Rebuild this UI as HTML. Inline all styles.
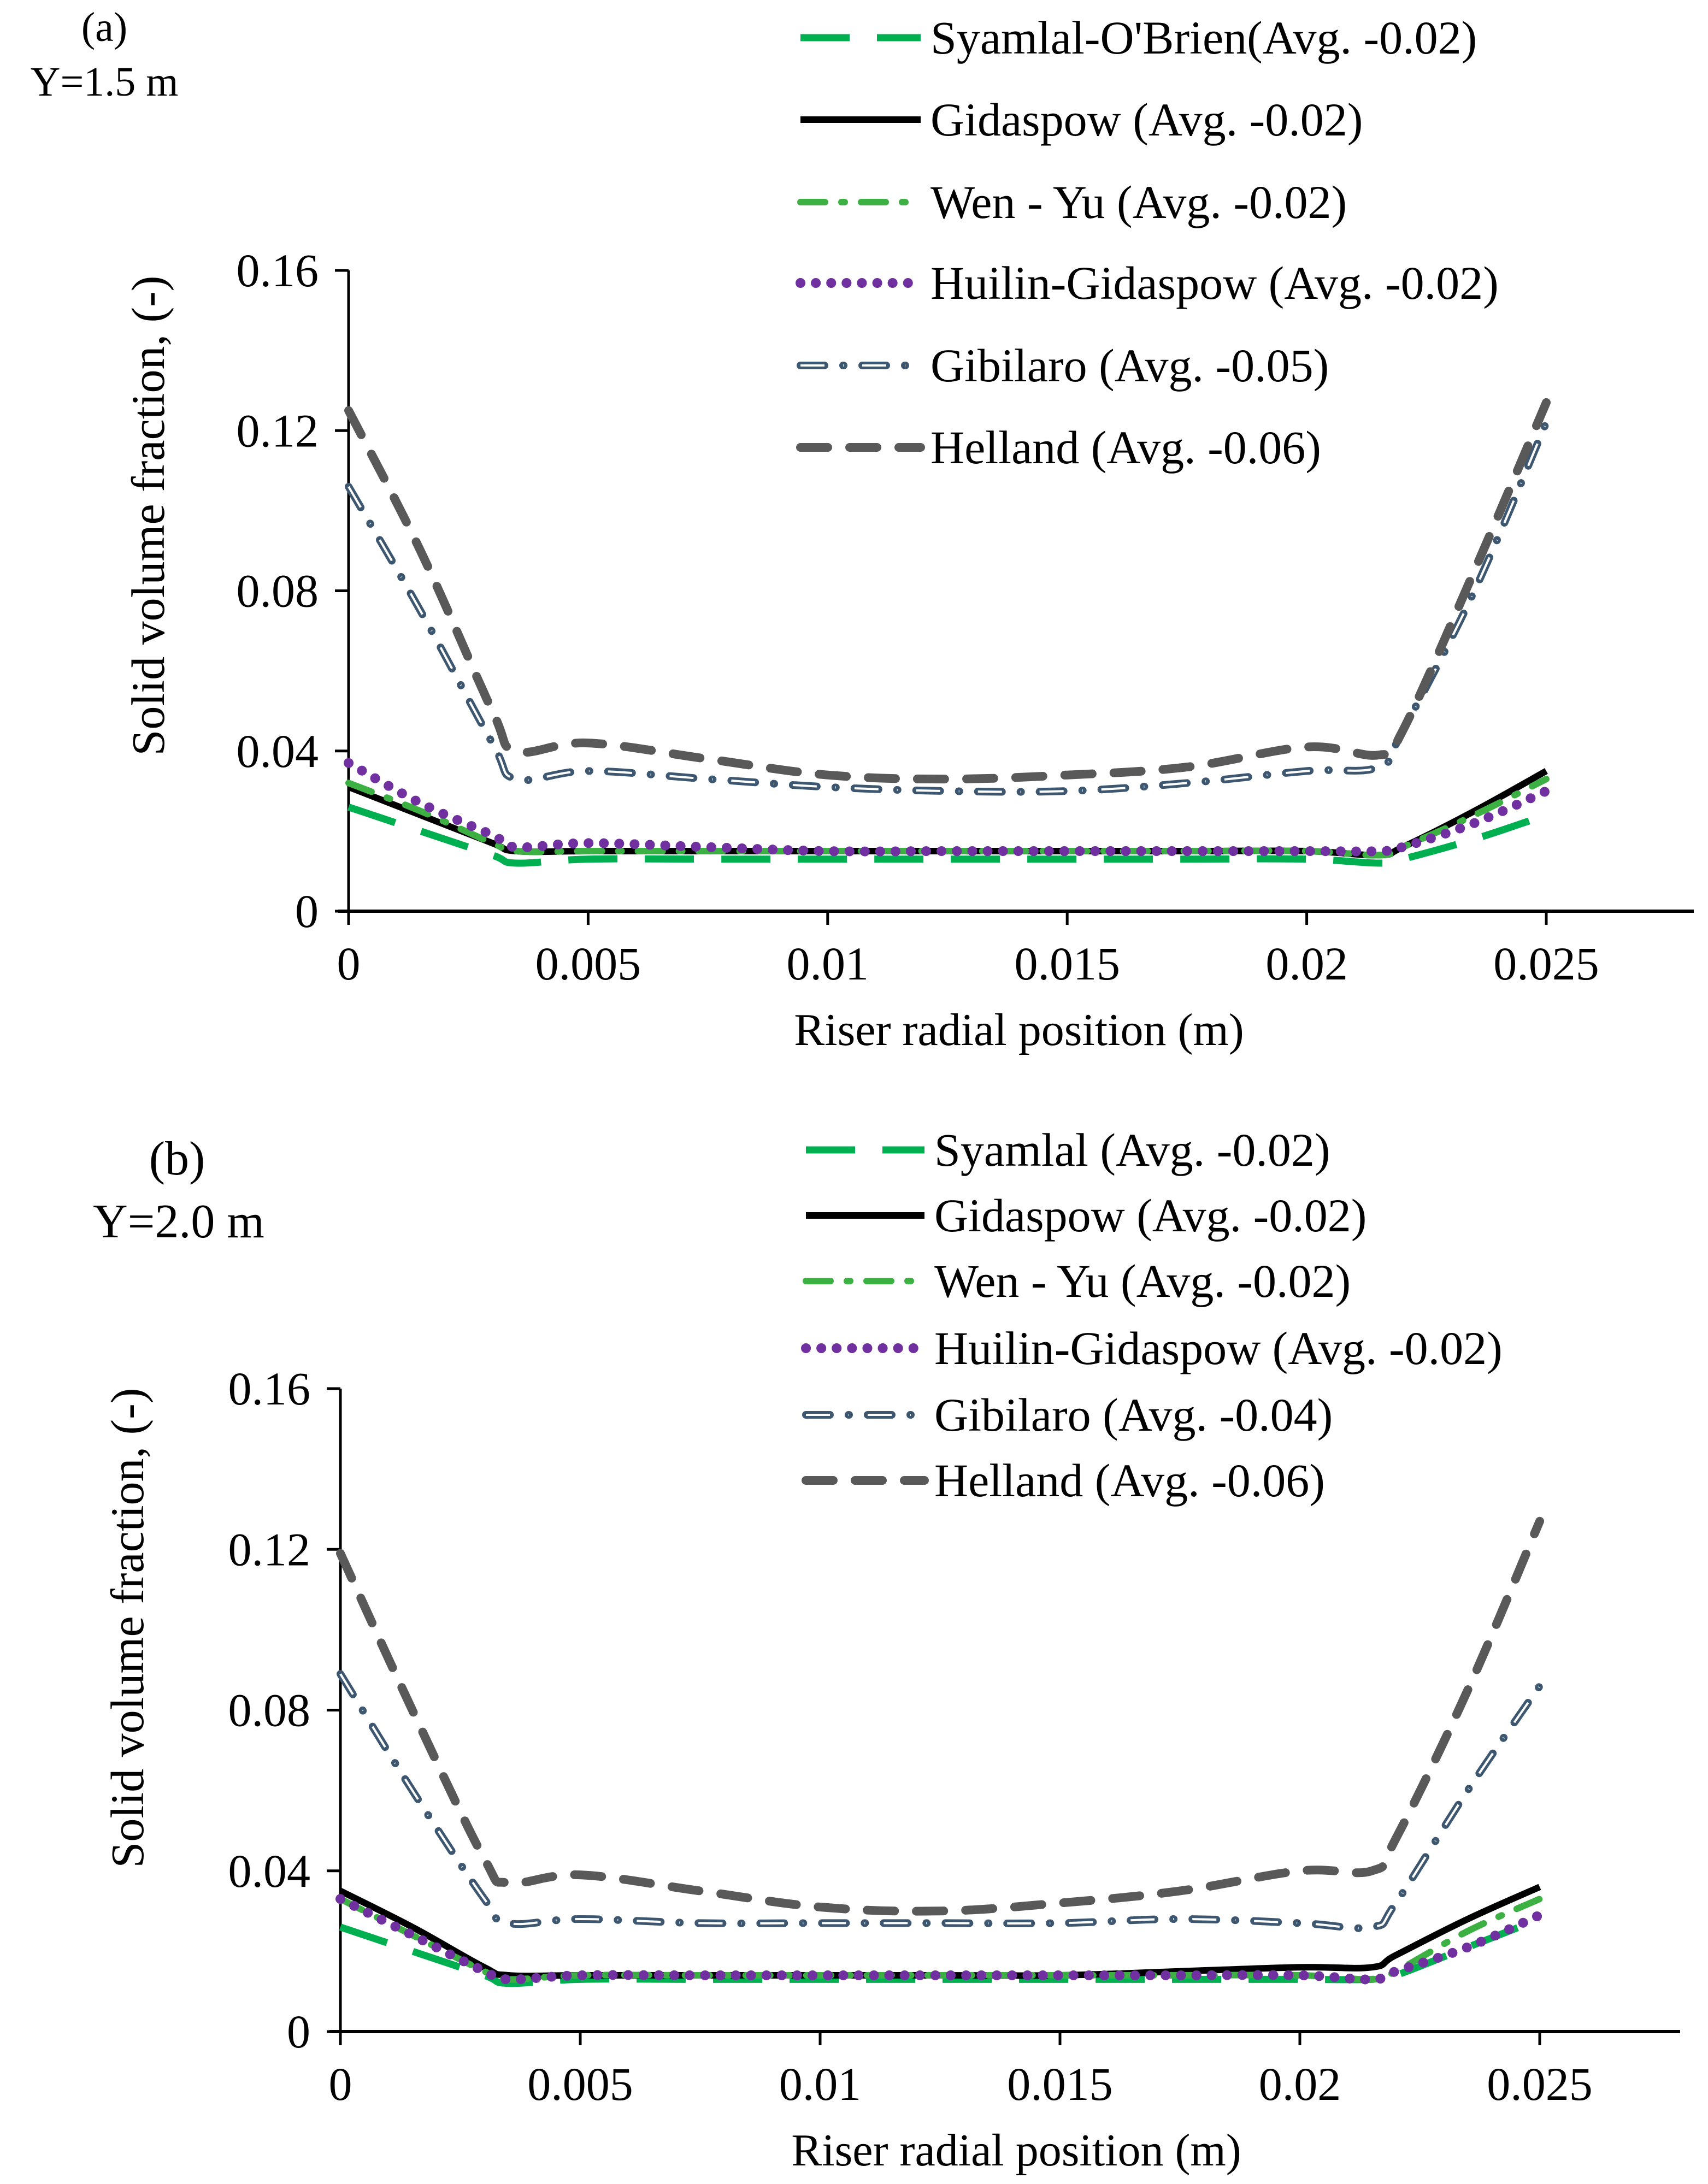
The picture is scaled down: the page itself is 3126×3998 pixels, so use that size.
<!DOCTYPE html>
<html><head><meta charset="utf-8"><style>
body{margin:0;background:#fff}
svg text{font-family:"Liberation Serif",serif;fill:#000}
</style></head><body>
<svg id="c" width="3126" height="3993" viewBox="0 0 3126 3993" xmlns="http://www.w3.org/2000/svg">
<rect width="3126" height="3993" fill="#fff"/>
</svg>
<script>
const xs=[0,0.0015,0.003,0.0035,0.005,0.0075,0.01,0.0125,0.015,0.0175,0.02,0.0215,0.022,0.0235,0.025];
const a_syamlal=[0.026,0.020,0.014,0.012,0.013,0.013,0.013,0.013,0.013,0.013,0.013,0.012,0.013,0.018,0.024];
const a_gidaspow=[0.031,0.024,0.017,0.015,0.015,0.015,0.015,0.015,0.015,0.015,0.015,0.014,0.016,0.025,0.035];
const a_wenyu=[0.032,0.025,0.017,0.015,0.015,0.015,0.015,0.015,0.015,0.015,0.015,0.014,0.016,0.024,0.033];
const a_huilin=[0.037,0.027,0.019,0.016,0.017,0.016,0.015,0.015,0.015,0.015,0.015,0.015,0.016,0.022,0.030];
const a_gibilaro=[0.106,0.075,0.042,0.033,0.035,0.033,0.031,0.030,0.030,0.032,0.035,0.036,0.045,0.080,0.122];
const a_helland=[0.125,0.090,0.050,0.040,0.042,0.038,0.034,0.033,0.034,0.036,0.041,0.039,0.045,0.085,0.127];
const b_syamlal=[0.026,0.020,0.014,0.012,0.013,0.013,0.013,0.013,0.013,0.013,0.013,0.013,0.014,0.021,0.028];
const b_gidaspow=[0.035,0.026,0.016,0.014,0.014,0.014,0.014,0.014,0.014,0.015,0.016,0.016,0.019,0.028,0.036];
const b_wenyu=[0.033,0.024,0.015,0.013,0.014,0.014,0.014,0.014,0.014,0.014,0.014,0.013,0.015,0.025,0.033];
const b_huilin=[0.033,0.024,0.015,0.013,0.014,0.014,0.014,0.014,0.014,0.014,0.014,0.013,0.015,0.021,0.029];
const b_gibilaro=[0.089,0.060,0.033,0.027,0.028,0.027,0.027,0.027,0.027,0.028,0.027,0.026,0.032,0.060,0.086];
const b_helland=[0.119,0.080,0.043,0.037,0.039,0.035,0.031,0.030,0.032,0.035,0.040,0.040,0.048,0.085,0.127];
const xTicks=[0,0.005,0.01,0.015,0.02,0.025];
const xTickLabels=["0","0.005","0.01","0.015","0.02","0.025"];
const yTicks=[0,0.04,0.08,0.12,0.16];
const yTickLabels=["0","0.04","0.08","0.12","0.16"];
const legendA=["Syamlal-O'Brien(Avg. -0.02)","Gidaspow (Avg. -0.02)","Wen - Yu (Avg. -0.02)","Huilin-Gidaspow (Avg. -0.02)","Gibilaro (Avg. -0.05)","Helland (Avg. -0.06)"];
const legendB=["Syamlal (Avg. -0.02)","Gidaspow (Avg. -0.02)","Wen - Yu (Avg. -0.02)","Huilin-Gidaspow (Avg. -0.02)","Gibilaro (Avg. -0.04)","Helland (Avg. -0.06)"];

const NS="http://www.w3.org/2000/svg";
const svg=document.getElementById('c');
function mk(tag,attrs,parent){const e=document.createElementNS(NS,tag);for(const k in attrs)e.setAttribute(k,attrs[k]);(parent||svg).appendChild(e);return e;}
const styles=[
 {c:"#00b050",w:13,d:"90 50",cap:"butt"},
 {c:"#000",w:12,d:"",cap:"butt"},
 {c:"#3cb043",w:12,d:"45 30 6 30",cap:"round"},
 {c:"#7030a0",w:18,d:"0.1 28",cap:"round"},
 {c:"#3e5770",w:14,d:"44 34 1 34",cap:"round",hollow:true},
 {c:"#595959",w:16,d:"50 40",cap:"round"}];
const seriesNames=["syamlal","gidaspow","wen-yu","huilin-gidaspow","gibilaro","helland"];

function smooth(P){
 let d="M"+P[0][0].toFixed(1)+","+P[0][1].toFixed(1);
 for(let i=0;i<P.length-1;i++){
  const p0=P[Math.max(0,i-1)],p1=P[i],p2=P[i+1],p3=P[Math.min(P.length-1,i+2)];
  const t=0.18;
  const c1=[p1[0]+(p2[0]-p0[0])*t,p1[1]+(p2[1]-p0[1])*t];
  const c2=[p2[0]-(p3[0]-p1[0])*t,p2[1]-(p3[1]-p1[1])*t];
  d+=" C"+c1[0].toFixed(1)+","+c1[1].toFixed(1)+" "+c2[0].toFixed(1)+","+c2[1].toFixed(1)+" "+p2[0].toFixed(1)+","+p2[1].toFixed(1);
 }
 return d;
}

function panel(p){
 const g=mk('g',{});
 
 
 const X=v=>p.x0+(p.x25-p.x0)*v/0.025;
 const Y=v=>p.y0+(p.y16-p.y0)*v/0.16;
 let ax=mk('line',{x1:p.x0,y1:p.y16,x2:p.x0,y2:p.y0+4,stroke:"#000","stroke-width":5},g);
 
 ax=mk('line',{x1:p.x0-20,y1:p.y0,x2:p.xend,y2:p.y0,stroke:"#000","stroke-width":6},g);
 
 xTicks.forEach((v,i)=>{
  mk('line',{x1:X(v),y1:p.y0,x2:X(v),y2:p.y0+25,stroke:"#000","stroke-width":5},g);
  const t=mk('text',{x:X(v),y:p.y0+125,"font-size":86,"text-anchor":"middle"},g);
  t.textContent=xTickLabels[i];
  
 });
 yTicks.forEach((v,i)=>{
  mk('line',{x1:p.x0-25,y1:Y(v),x2:p.x0,y2:Y(v),stroke:"#000","stroke-width":5},g);
  const t=mk('text',{x:p.x0-55,y:Y(v)+29,"font-size":86,"text-anchor":"end"},g);
  t.textContent=yTickLabels[i];
  
 });
 let t=mk('text',{x:p.xtitle,y:p.y0+245,"font-size":84,"text-anchor":"middle"},g);
 t.textContent="Riser radial position (m)";
 
 t=mk('text',{x:0,y:0,"font-size":86,"text-anchor":"middle",transform:`translate(${p.ytx},${p.ytc}) rotate(-90)`},g);
 t.textContent="Solid volume fraction, (-)";
 
 p.data.forEach((arr,si)=>{
  const s=styles[si];
  const P=xs.map((x,i)=>[X(x),Y(arr[i])]);
  const dd=smooth(P);
  const l=mk('path',{d:dd,fill:"none",stroke:s.c,"stroke-width":s.w,"stroke-dasharray":s.d,"stroke-linecap":s.cap,"stroke-linejoin":"round"},g);
  
  
  if(s.hollow){const h=mk('path',{d:dd,fill:"none",stroke:"#fff","stroke-width":4,"stroke-dasharray":s.d,"stroke-linejoin":"round"},g);
   }
 });
 p.legend.forEach((lab,i)=>{
  const s=styles[i];const y=p.ly[i];
  const lg=mk('g',{},g);
  
  
  mk('line',{x1:p.lx1,y1:y,x2:p.lx2,y2:y,stroke:s.c,"stroke-width":s.w,"stroke-dasharray":s.d,"stroke-linecap":s.cap},lg);
  if(s.hollow)mk('line',{x1:p.lx1,y1:y,x2:p.lx2,y2:y,stroke:"#fff","stroke-width":4,"stroke-dasharray":s.d},lg);
  const tt=mk('text',{x:p.lx2+18,y:y+29,"font-size":86},lg);
  tt.textContent=lab;
  
 });
 p.labels.forEach(l=>{const tt=mk('text',{x:l.x,y:l.y,"font-size":l.s,"text-anchor":"middle"},g);tt.textContent=l.t;
  });
}
panel({id:"a",x0:638,x25:2830,xend:3100,y0:1668,y16:495,xtitle:1865,ytx:300,ytc:944,
 data:[a_syamlal,a_gidaspow,a_wenyu,a_huilin,a_gibilaro,a_helland],legend:legendA,
 lx1:1465,lx2:1685,ly:[69,219,370,518,669,819],
 labels:[{t:"(a)",x:191,y:75,s:76,n:"panel-a-label"},{t:"Y=1.5 m",x:191,y:175,s:76,n:"panel-a-height-label"}]});
panel({id:"b",x0:623,x25:2818,xend:3075,y0:3719,y16:2542,xtitle:1860,ytx:262,ytc:2980,
 data:[b_syamlal,b_gidaspow,b_wenyu,b_huilin,b_gibilaro,b_helland],legend:legendB,
 lx1:1475,lx2:1692,ly:[2105,2225,2345,2468,2590,2710],
 labels:[{t:"(b)",x:324,y:2150,s:88,n:"panel-b-label"},{t:"Y=2.0 m",x:327,y:2265,s:88,n:"panel-b-height-label"}]});
</script>
</body></html>
